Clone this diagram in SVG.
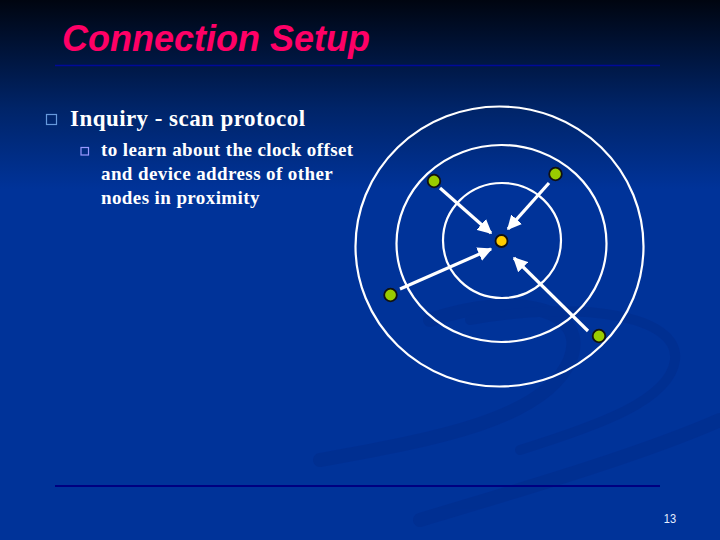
<svg xmlns="http://www.w3.org/2000/svg" width="720" height="540" viewBox="0 0 720 540">
<defs>
<linearGradient id="bg" x1="0" y1="0" x2="0" y2="1">
<stop offset="0" stop-color="#000510"/>
<stop offset="0.2" stop-color="#002468"/>
<stop offset="0.35" stop-color="#003399"/>
<stop offset="1" stop-color="#003399"/>
</linearGradient>
<marker id="ah" viewBox="0 0 10 10" refX="9" refY="5" markerWidth="4.5" markerHeight="4.5" markerUnits="strokeWidth" orient="auto">
<path d="M0,0 L10,5 L0,10 z" fill="#ffffff"/>
</marker>
<style>
.ring{fill:none;stroke:#ffffff;stroke-width:2.2}
.arr{stroke:#ffffff;stroke-width:3.2;fill:none;marker-end:url(#ah)}
.node{fill:#99cc00;stroke:#111111;stroke-width:1.8}
.hub{fill:#ffcc00;stroke:#111111;stroke-width:1.8}
.body{font-family:"Liberation Serif",serif;font-weight:bold;fill:#ffffff}
</style>
</defs>
<rect width="720" height="540" fill="url(#bg)"/>
<g id="swoosh" fill="none" stroke="#002c8c" stroke-linecap="round" opacity="0.55">
<path d="M430,320 C520,290 590,310 570,360 C545,420 430,440 320,460" stroke-width="14"/>
<path d="M470,320 C580,300 680,315 675,360 C670,400 600,425 520,450" stroke-width="10"/>
<path d="M720,420 C640,455 520,490 420,520" stroke-width="14"/>
</g>
<g id="title">
<text x="62" y="51" font-family="Liberation Sans,Arial,sans-serif" font-weight="bold" font-style="italic" font-size="36" fill="#ff0066">Connection Setup</text>
</g>
<line x1="55" y1="65.5" x2="660" y2="65.5" stroke="#000a99" stroke-width="1.5"/>
<line x1="55" y1="486" x2="660" y2="486" stroke="#000080" stroke-width="2"/>
<g id="bullets">
<rect x="46.5" y="114.5" width="10" height="10" fill="none" stroke="#6699dd" stroke-width="1.2"/>
<text class="body" x="70" y="126" font-size="23" letter-spacing="0.45">Inquiry - scan protocol</text>
<rect x="81" y="147.5" width="7.5" height="7.5" fill="none" stroke="#9999ff" stroke-width="1.2"/>
<text class="body" x="101" y="156" font-size="19" letter-spacing="0.4">to learn about the clock offset</text>
<text class="body" x="101" y="180" font-size="19" letter-spacing="0.4">and device address of other</text>
<text class="body" x="101" y="204" font-size="19" letter-spacing="0.4">nodes in proximity</text>
</g>
<g id="rings">
<ellipse class="ring" cx="499.5" cy="246.5" rx="144" ry="140"/>
<ellipse class="ring" cx="501.5" cy="243.5" rx="105" ry="98.5"/>
<ellipse class="ring" cx="502" cy="240.5" rx="59" ry="57.5"/>
</g>
<g id="connectors">
<line class="arr" x1="440" y1="188" x2="491" y2="233"/>
<line class="arr" x1="549" y1="183" x2="508" y2="229"/>
<line class="arr" x1="400" y1="289" x2="491" y2="249"/>
<line class="arr" x1="588" y1="331" x2="514" y2="258"/>
</g>
<g id="node-center"><circle class="hub" cx="501.5" cy="241" r="6"/></g>
<g id="node-nw"><circle class="node" cx="434" cy="181" r="6.3"/></g>
<g id="node-ne"><circle class="node" cx="555.5" cy="174" r="6.3"/></g>
<g id="node-w"><circle class="node" cx="390.5" cy="295" r="6.3"/></g>
<g id="node-se"><circle class="node" cx="599" cy="336" r="6.3"/></g>
<g id="page">
<text x="670" y="523" text-anchor="middle" font-family="Liberation Sans,Arial,sans-serif" font-size="13" fill="#e6eeff" transform="translate(670 0) scale(0.85 1) translate(-670 0)">13</text>
</g>
</svg>
